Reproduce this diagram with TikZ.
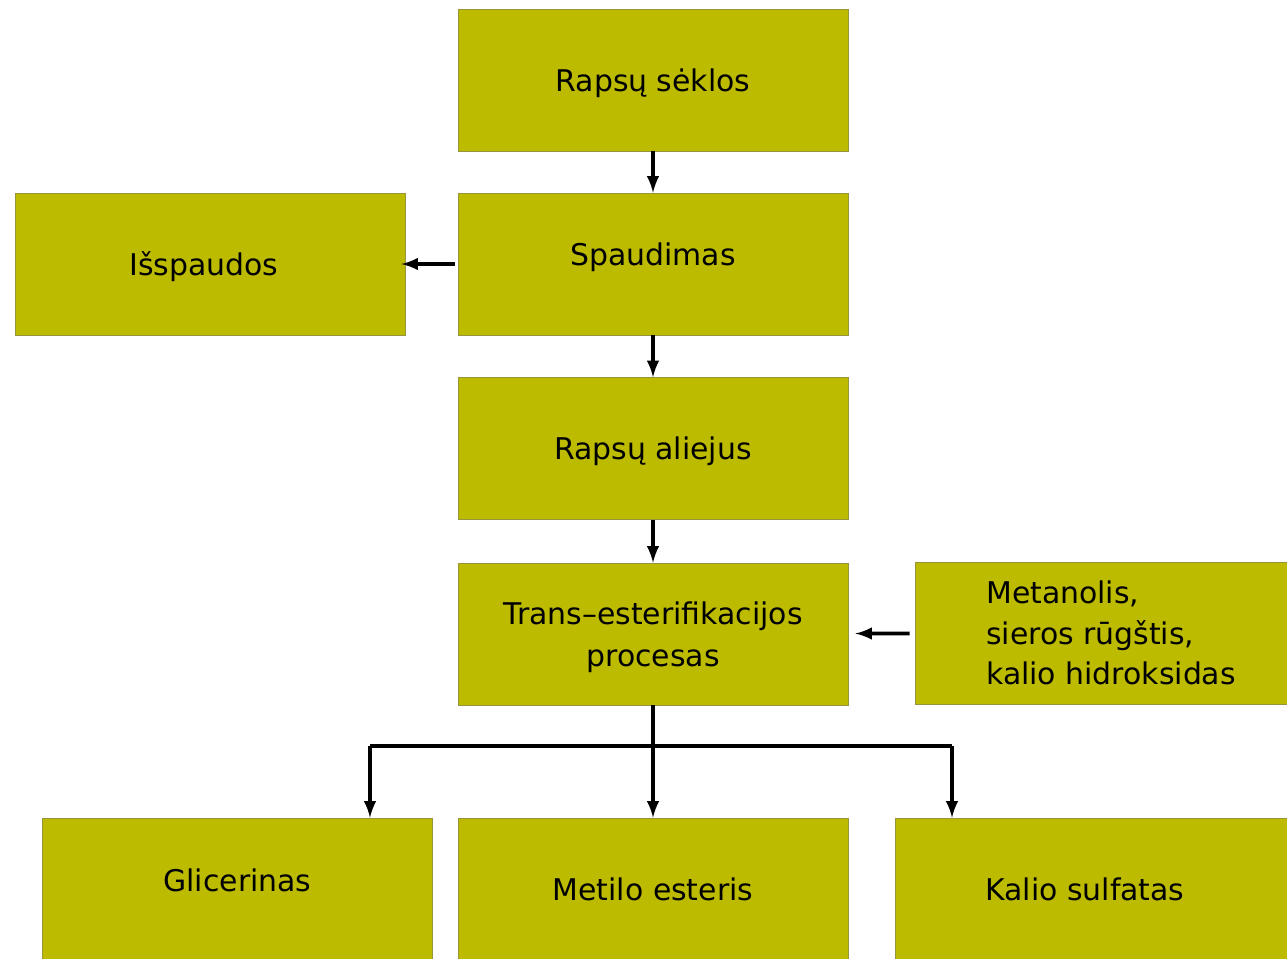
\documentclass[tikz,border=0pt]{standalone}
\usepackage{fontspec}
\setmainfont{DejaVu Sans}
\usetikzlibrary{calc}
\definecolor{boxfill}{RGB}{189,187,0}
\definecolor{boxline}{RGB}{150,148,60}

\begin{document}
\begin{tikzpicture}[
    box/.style={draw=boxline, line width=0.5pt, fill=boxfill, minimum width=7.8cm,
      minimum height=2.84cm, inner sep=0pt, align=center, text depth=0pt,
      font=\fontsize{17}{24}\selectfont},
    flow/.style={line width=2.2pt, -latex}
  ]
  \useasboundingbox (0,0) rectangle (25.74,-19.16);

  % Main column
  \node[box] (seeds) at (13.06,-1.60) {Rapsų sėklos};
  \node[box] (press) at (13.06,-5.28) {\raisebox{0.38cm}{Spaudimas}};
  \node[box] (oil)   at (13.06,-8.97) {Rapsų aliejus};
  \node[box] (trans) at (13.06,-12.68) {Trans–esterifikacijos\\procesas};

  % Side boxes
  \node[box] (cake) at (4.20,-5.28) {\hspace*{-0.24cm}Išspaudos};
  \node[box, minimum width=7.44cm, align=left,
    font=\fontsize{17}{23}\selectfont] (reag) at (22.02,-12.66)
    {\hspace*{0.4cm}Metanolis,\\\hspace*{0.4cm}sieros rūgštis,\\\hspace*{0.4cm}kalio hidroksidas};

  % Products (cut off at the bottom)
  \node[box] (glyc)  at (4.75,-17.78) {\raisebox{0.36cm}{Glicerinas}};
  \node[box] (ester) at (13.06,-17.78) {Metilo esteris};
  \node[box, minimum width=7.84cm] (sulf) at (21.82,-17.78) {\hspace*{-0.24cm}Kalio sulfatas};

  \draw[flow] (seeds) -- (press);
  \draw[flow] (press) -- (oil);
  \draw[flow] (oil) -- (trans);
  \draw[flow, shorten <=0.06cm, shorten >=-0.08cm] (press) -- (cake);
  \draw[flow, shorten <=0.1cm, shorten >=0.14cm] (reag) -- (trans);

  % Branch to the products
  \coordinate (bl) at (7.40,-14.92);
  \coordinate (br) at (19.04,-14.92);
  \draw[line width=2.2pt] (bl) -- (br);
  \draw[flow] (trans) -- (ester);
  \draw[flow] (bl) -- (bl |- glyc.north);
  \draw[flow] (br) -- (br |- sulf.north);
\end{tikzpicture}
\end{document}
